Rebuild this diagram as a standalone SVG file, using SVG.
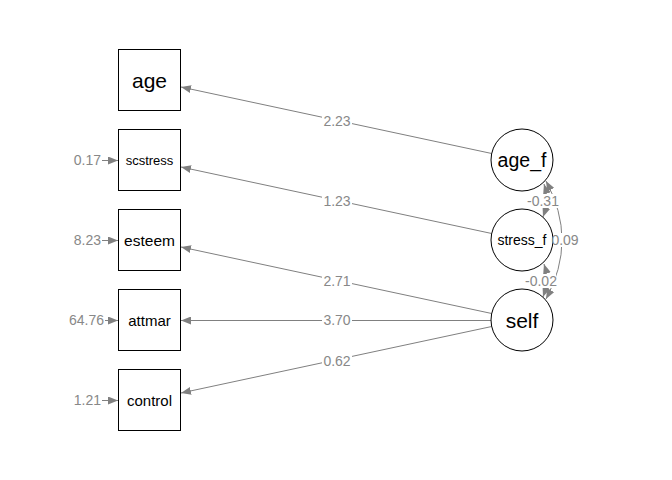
<svg xmlns="http://www.w3.org/2000/svg" width="672" height="480" viewBox="0 0 672 480">
<style>
.e{stroke:#808080;stroke-width:1;fill:none}
.ea{marker-end:url(#ah)}
.eb{marker-start:url(#ah);marker-end:url(#ah)}
.lb{fill:#ffffff;stroke:none}
.lt{font-family:"Liberation Sans",Arial,sans-serif;font-size:14px;fill:#888888;text-anchor:middle;dominant-baseline:central}
.rt{font-family:"Liberation Sans",Arial,sans-serif;font-size:14px;fill:#888888;text-anchor:end;dominant-baseline:central}
.box{fill:#ffffff;stroke:#000000;stroke-width:1}
.nt{font-family:"Liberation Sans",Arial,sans-serif;fill:#000000;text-anchor:middle;dominant-baseline:central}
</style>
<defs>
<marker id="ah" markerUnits="userSpaceOnUse" markerWidth="10" markerHeight="8" refX="10" refY="4" orient="auto-start-reverse">
<path d="M0,0 L10,4 L0,8 z" fill="#808080"/>
</marker>
</defs>
<rect width="672" height="480" fill="#ffffff"/>
<g id="connectors">
<line class="e ea" x1="491.7" y1="153.5" x2="181" y2="87"/>
<line class="e ea" x1="491.7" y1="233.5" x2="181" y2="167"/>
<line class="e ea" x1="491.7" y1="313.5" x2="181" y2="247"/>
<line class="e ea" x1="491" y1="320.5" x2="181" y2="320.5"/>
<line class="e ea" x1="491.7" y1="326.5" x2="181" y2="393"/>
<line class="e ea" x1="102" y1="160.5" x2="118" y2="160.5"/>
<line class="e ea" x1="102" y1="240.5" x2="118" y2="240.5"/>
<line class="e ea" x1="105" y1="320.5" x2="118" y2="320.5"/>
<line class="e ea" x1="102" y1="400.5" x2="118" y2="400.5"/>
<path class="e eb" d="M544,184 Q549,200 543,217"/>
<path class="e eb" d="M544,264 Q549,280 543,297"/>
<path class="e eb" d="M546,181 Q578,240 546,299"/>
<rect class="lb" x="322" y="114" width="30" height="14"/>
<text class="lt" x="337" y="121">2.23</text>
<rect class="lb" x="322" y="194" width="30" height="14"/>
<text class="lt" x="337" y="201">1.23</text>
<rect class="lb" x="322" y="274" width="30" height="14"/>
<text class="lt" x="337" y="281">2.71</text>
<rect class="lb" x="322" y="313" width="30" height="14"/>
<text class="lt" x="337" y="320">3.70</text>
<rect class="lb" x="322" y="354" width="30" height="14"/>
<text class="lt" x="337" y="361">0.62</text>
<text class="rt" x="101" y="160">0.17</text>
<text class="rt" x="101" y="240">8.23</text>
<text class="rt" x="104" y="320">64.76</text>
<text class="rt" x="101" y="400">1.21</text>
</g>
<g id="age"><rect class="box" x="118.5" y="49.5" width="62" height="61"/><text class="nt" x="149.5" y="80" font-size="21">age</text></g>
<g id="scstress"><rect class="box" x="118.5" y="129.5" width="62" height="61"/><text class="nt" x="149.5" y="160" font-size="13">scstress</text></g>
<g id="esteem"><rect class="box" x="118.5" y="209.5" width="62" height="61"/><text class="nt" x="149.5" y="240" font-size="15.5">esteem</text></g>
<g id="attmar"><rect class="box" x="118.5" y="289.5" width="62" height="61"/><text class="nt" x="149.5" y="320" font-size="15">attmar</text></g>
<g id="control"><rect class="box" x="118.5" y="369.5" width="62" height="61"/><text class="nt" x="149.5" y="400" font-size="15">control</text></g>
<g id="age_f"><circle class="box" cx="522" cy="160" r="31"/><text class="nt" x="522" y="160" font-size="19.5">age_f</text></g>
<g id="stress_f"><circle class="box" cx="522" cy="240" r="31"/><text class="nt" x="522" y="240" font-size="14">stress_f</text></g>
<g id="self"><circle class="box" cx="522" cy="320" r="31"/><text class="nt" x="522" y="320" font-size="21">self</text></g>
<g id="cov-labels">
<rect class="lb" x="528" y="194" width="30" height="14"/>
<text class="lt" x="543" y="201">-0.31</text>
<rect class="lb" x="526" y="274" width="30" height="14"/>
<text class="lt" x="541" y="281">-0.02</text>
<rect class="lb" x="553" y="233" width="25" height="14"/>
<text class="lt" x="565" y="240">0.09</text>
</g>
</svg>
